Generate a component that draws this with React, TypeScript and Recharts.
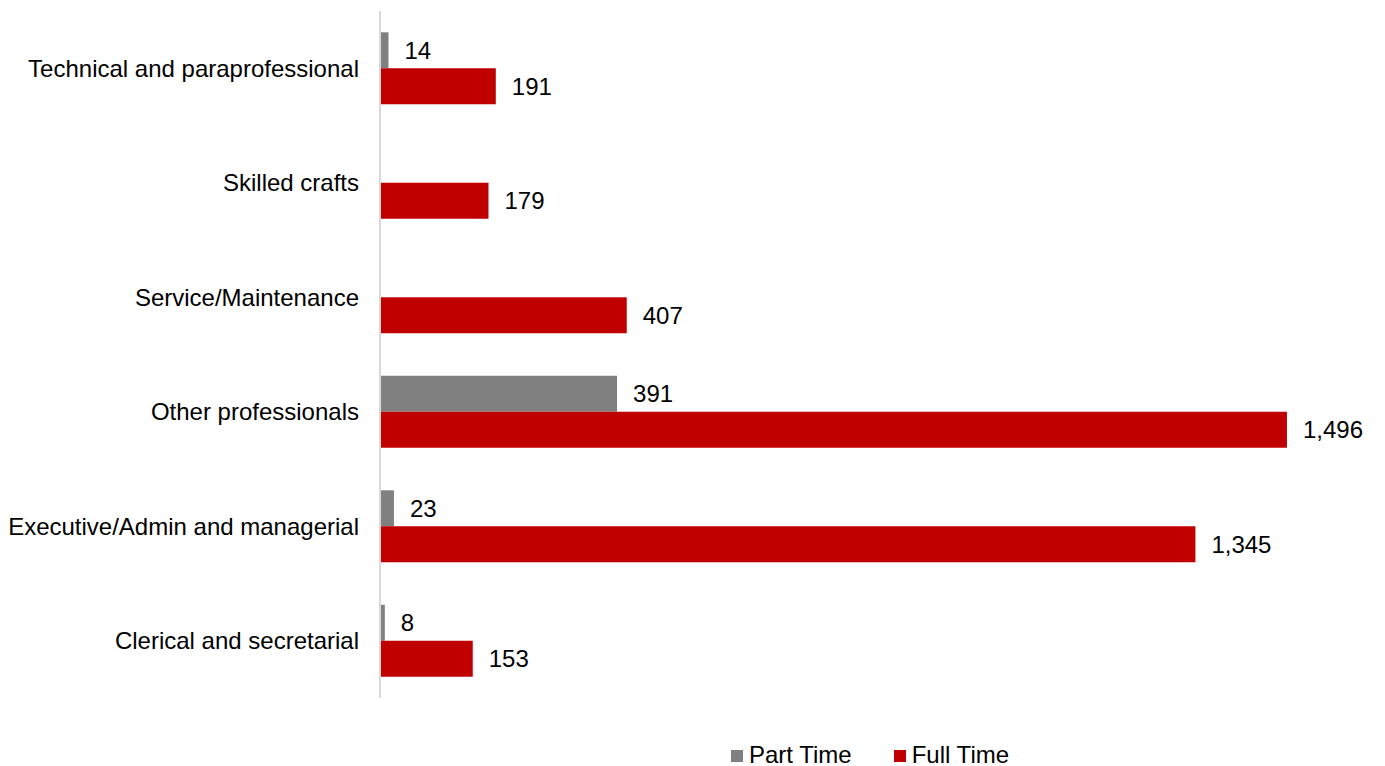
import React from 'react';
import { BarChart, Bar, XAxis, YAxis, Legend, LabelList } from 'recharts';

const categories = [
  'Technical and paraprofessional',
  'Skilled crafts',
  'Service/Maintenance',
  'Other professionals',
  'Executive/Admin and managerial',
  'Clerical and secretarial',
];
const partTime: (number | null)[] = [14, null, null, 391, 23, 8];
const fullTime: number[] = [191, 179, 407, 1496, 1345, 153];

const seriesNames = ['Part Time', 'Full Time'];
const colors = ['#808080', '#C00000'];

const data = categories.map((c, i) => ({ name: c, part: partTime[i], full: fullTime[i] }));

const fmt = (v: any) => (v == null ? '' : Number(v).toLocaleString('en-US'));
const FONT = '"Liberation Sans", Arial, sans-serif';

const LegendContent = () => (
  <div style={{ display: 'flex', alignItems: 'center', fontFamily: FONT, fontSize: 24, lineHeight: '28px', color: '#000' }}>
    {seriesNames.map((n, i) => (
      <div key={n} style={{ display: 'flex', alignItems: 'center', marginRight: i === 0 ? 42 : 0 }}>
        <span style={{ display: 'inline-block', width: 12, height: 12, background: colors[i], marginRight: 6, marginTop: 2 }} />
        <span>{n}</span>
      </div>
    ))}
  </div>
);

export default function App() {
  return (
    <div style={{ position: 'absolute', top: 0, left: 0, width: 1385, height: 766, background: '#fff' }}>
      <BarChart
        width={1385}
        height={766}
        data={data}
        layout="vertical"
        margin={{ top: 11, right: 35, bottom: 68, left: 0 }}
        barGap={0}
        barCategoryGap="18.6%"
      >
        <XAxis type="number" domain={[0, 1600]} hide />
        <YAxis
          type="category"
          dataKey="name"
          width={380}
          axisLine={{ stroke: '#D9D9D9', strokeWidth: 2 }}
          tickLine={false}
          tickMargin={15}
          tick={{ fill: '#000', fontSize: 24, fontFamily: FONT }}
          interval={0}
        />
        <Legend
          verticalAlign="middle"
          align="center"
          content={<LegendContent />}
          wrapperStyle={{ top: 741, left: 731, width: 'auto', height: 28 }}
        />
        <Bar dataKey="part" name={seriesNames[0]} fill={colors[0]} isAnimationActive={false}>
          <LabelList dataKey="part" position="right" offset={16} formatter={fmt} style={{ fill: '#000', fontSize: 24, fontFamily: FONT }} />
        </Bar>
        <Bar dataKey="full" name={seriesNames[1]} fill={colors[1]} isAnimationActive={false}>
          <LabelList dataKey="full" position="right" offset={16} formatter={fmt} style={{ fill: '#000', fontSize: 24, fontFamily: FONT }} />
        </Bar>
      </BarChart>
    </div>
  );
}
